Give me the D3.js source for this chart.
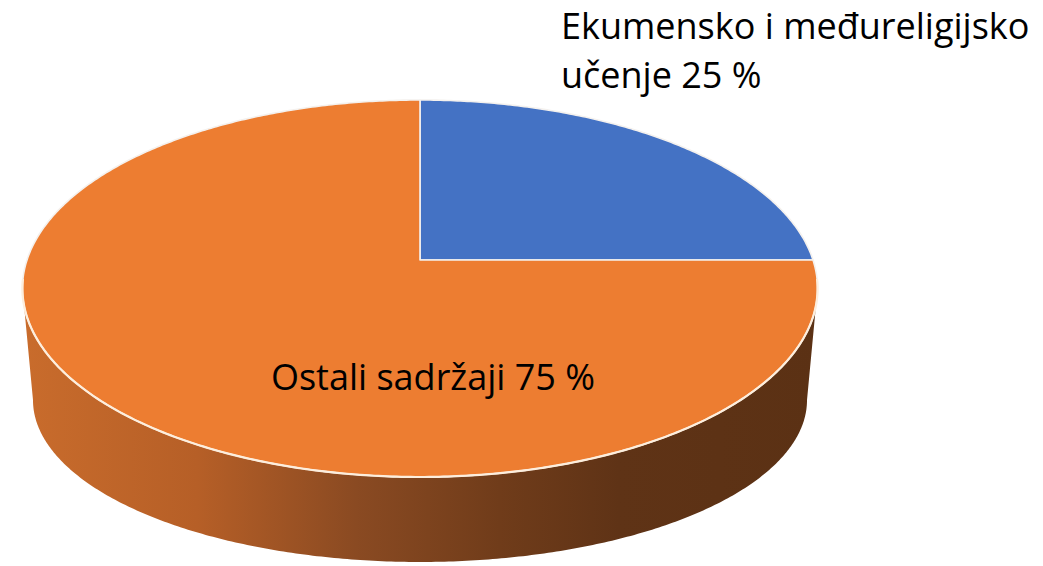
<!DOCTYPE html>
<html>
<head>
<meta charset="utf-8">
<script src="https://cdn.jsdelivr.net/npm/d3@7"></script>
<style>
  body { margin: 0; background: #fff; }
  text { font-family: "Open Sans", Lato, sans-serif; fill: #000; }
</style>
</head>
<body>
<script>
//chart data
var categories = ['Ekumensko i međureligijsko učenje', 'Ostali sadržaji'];
var values = [25, 75];
var labelLines = [['Ekumensko i međureligijsko', 'učenje'], ['Ostali sadržaji']];
var colors = ['#4472c4', '#ed7d31'];

//base values
var width = 1043,
    height = 566;

var cx = 420;
//perspective of the top face (centre of pie sits at y=260)
var top3d = { ax: 393, cy: 260, dy: -144.88, g: 0.1512 };
//bottom face a bit smaller and flatter
var bot3d = { ax: 383.2, cy: 377.4, dy: -105.9, g: 0.14 };

function proj(face, theta, r) {
    var u = r * Math.sin(theta), v = r * Math.cos(theta);
    var w = 1 + face.g * v;
    return [cx + face.ax * u / w, (face.cy + face.dy * v) / w];
}

function arcPoints(face, a0, a1) {
    var n = Math.max(2, Math.ceil(Math.abs(a1 - a0) / 0.01));
    return d3.range(n + 1).map(function (i) { return proj(face, a0 + (a1 - a0) * i / n, 1); });
}

var line = d3.line().curve(d3.curveLinear);

var svg = d3.select("body").append("svg")
    .attr("width", width)
    .attr("height", height);

//side gradient
var grad = svg.append("defs").append("linearGradient")
    .attr("id", "side")
    .attr("gradientUnits", "userSpaceOnUse")
    .attr("x1", 22).attr("x2", 818).attr("y1", 0).attr("y2", 0);
[[0, '#c96c2c'], [0.22, '#b65f27'], [0.42, '#8a4a22'], [0.6, '#703c1a'], [0.75, '#5f3316'], [1, '#5b3114']]
    .forEach(function (s) { grad.append("stop").attr("offset", s[0]).attr("stop-color", s[1]); });

//silhouette angles (where x is max) for top and bottom
var tR = Math.acos(-top3d.g), tL = 2 * Math.PI - tR;
var bR = Math.acos(-bot3d.g), bL = 2 * Math.PI - bR;

var sidePts = arcPoints(top3d, tR, tL).concat(arcPoints(bot3d, bL, bR));
svg.append("path")
    .attr("d", line(sidePts) + "Z")
    .attr("fill", "url(#side)");

//top face slices
var pie = d3.pie().sort(null).startAngle(0).endAngle(2 * Math.PI);
var arcs = pie(values);

svg.selectAll(".slice")
    .data(arcs)
    .enter().append("path")
    .attr("class", "slice")
    .attr("d", function (d) {
        var pts = [proj(top3d, 0, 0)].concat(arcPoints(top3d, d.startAngle, d.endAngle));
        return line(pts) + "Z";
    })
    .attr("fill", function (d, i) { return colors[i]; })
    .attr("stroke", "#f4f1ee")
    .attr("stroke-width", 1.6)
    .attr("stroke-linejoin", "round");

//light rim on the front edge
svg.append("path")
    .attr("d", line(arcPoints(top3d, tR - 0.05, tL + 0.05)))
    .attr("fill", "none")
    .attr("stroke", "#fdeedd")
    .attr("stroke-width", 2.2);

//labels
var lab0 = svg.append("text")
    .attr("x", 561)
    .attr("y", 39)
    .style("font-size", "36px");
lab0.append("tspan").attr("x", 561).attr("dy", 0).text(labelLines[0][0]);
lab0.append("tspan").attr("x", 561).attr("y", 88).text(labelLines[0][1] + ' ' + values[0] + ' %');

svg.append("text")
    .attr("x", 433)
    .attr("y", 390)
    .attr("text-anchor", "middle")
    .style("font-size", "36px")
    .text(labelLines[1][0] + ' ' + values[1] + ' %');
</script>
</body>
</html>
